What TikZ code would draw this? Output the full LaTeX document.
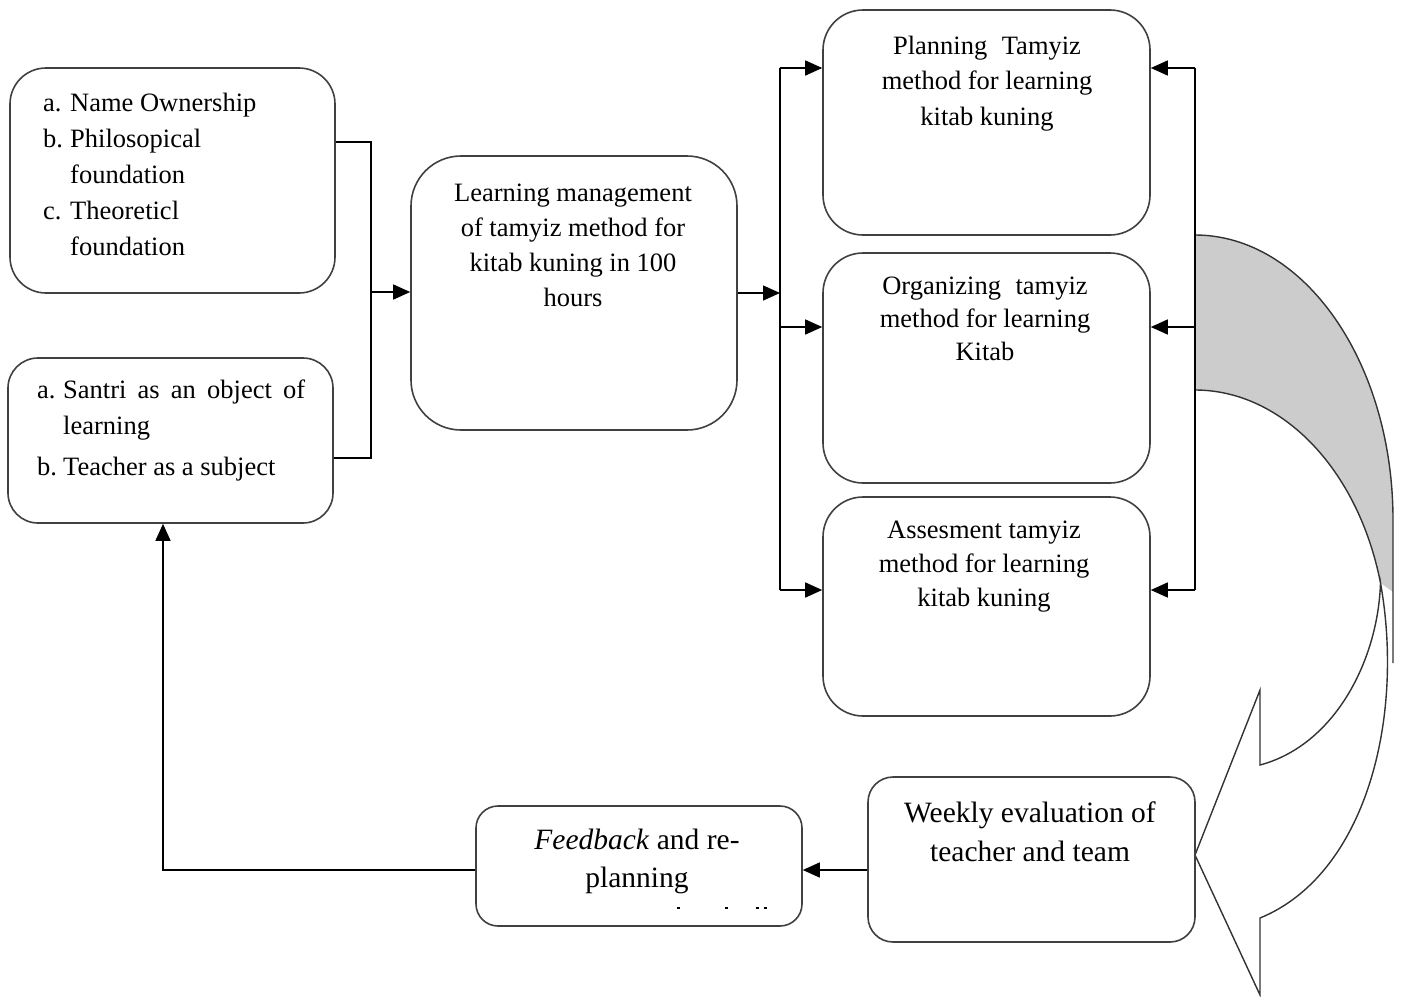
\documentclass[tikz,border=0pt]{standalone}
\usepackage{fontspec}
\setmainfont{Liberation Serif}
\usetikzlibrary{arrows.meta}
\begin{document}
\begin{tikzpicture}[x=1pt,y=-1pt,
  box/.style={draw=black!75, line width=1.6pt, fill=white, inner sep=0pt},
  conn/.style={line width=1.5pt, black},
  arr/.style={conn, -{Triangle[length=17pt,width=15pt]}},
  txt/.style={inner sep=0pt, align=center, font=\fontsize{26.5}{34}\selectfont},
  txtl/.style={inner sep=0pt, align=left, anchor=north west, font=\fontsize{26.5}{36}\selectfont},
  big/.style={inner sep=0pt, align=center, font=\fontsize{29.5}{39}\selectfont},
  curve/.style={draw=black!80, line width=1.4pt, line join=miter},
]
\useasboundingbox (0,0) rectangle (1402,996);

% curved arrow (back part)
\path[fill=black!20] (1195,235) arc[start angle=-90, end angle=0, x radius=198, y radius=285]
  -- (1393,592) -- (1380.5,583) arc[start angle=-15, end angle=-90, x radius=192, y radius=260] -- cycle;
\draw[curve] (1195,235) arc[start angle=-90, end angle=0, x radius=198, y radius=285] -- (1393,663);
\draw[curve] (1195,390) arc[start angle=-90, end angle=-15, x radius=192, y radius=260];
% curved arrow (front part)
\filldraw[curve, fill=white] (1380.5,583) .. controls (1378,660) and (1335,745) .. (1260,765)
  -- (1260,690) -- (1195,855) -- (1260,995) -- (1260,918)
  .. controls (1365,875) and (1405,720) .. (1380.5,583) -- cycle;

% boxes
\node[box, rounded corners=36pt, minimum width=325pt, minimum height=225pt] (A) at (172.5,180.5) {};
\node[box, rounded corners=30pt, minimum width=325pt, minimum height=165pt] (B) at (170.5,440.5) {};
\node[box, rounded corners=50pt, minimum width=326pt, minimum height=274pt] (C) at (574,293) {};
\node[box, rounded corners=40pt, minimum width=327pt, minimum height=225pt] (D) at (986.5,122.5) {};
\node[box, rounded corners=40pt, minimum width=327pt, minimum height=230pt] (E) at (986.5,368) {};
\node[box, rounded corners=40pt, minimum width=327pt, minimum height=219pt] (F) at (986.5,606.5) {};
\node[box, rounded corners=25pt, minimum width=327pt, minimum height=165pt] (G) at (1031.5,859.5) {};
\node[box, rounded corners=22pt, minimum width=326pt, minimum height=120pt] (H) at (639,866) {};

% texts
\node[txtl] (tA) at (43,86) {\strut\makebox[27pt][l]{a.}Name Ownership\\
  \makebox[27pt][l]{b.}Philosopical\\
  \hspace*{27pt}foundation\\
  \makebox[27pt][l]{c.}Theoreticl\\
  \hspace*{27pt}foundation};
\node[txtl] (tB) at (37,373) {\strut\makebox[26pt][l]{a.}\makebox[242pt][s]{Santri as an object of}\\
  \hspace*{26pt}learning\\[5pt]
  \makebox[26pt][l]{b.}Teacher as a subject};
\node[txt, anchor=north, font=\fontsize{26.5}{35}\selectfont] (tC) at (573,177) {\strut Learning management\\of tamyiz method for\\kitab kuning in 100\\hours};
\node[txt, anchor=north, font=\fontsize{26.5}{35.5}\selectfont] (tD) at (987,29) {\strut Planning\hspace{0.3em} Tamyiz\\method for learning\\kitab kuning};
\node[txt, anchor=north, font=\fontsize{26.5}{33}\selectfont] (tE) at (985,271) {\strut Organizing\hspace{0.3em} tamyiz\\method for learning\\Kitab};
\node[txt, anchor=north] (tF) at (984,514) {\strut Assesment tamyiz\\method for learning\\kitab kuning};
\node[big, anchor=north] (tG) at (1030,795) {\strut Weekly evaluation of\\teacher and team};
\node[big, anchor=north, font=\fontsize{29.5}{38}\selectfont] (tH) at (637,823) {\strut\textit{Feedback} and re-\\planning};
% clipped dots in feedback box
\fill (677,906.5) rectangle (679.5,909);
\fill (725,906.5) rectangle (727.5,909);
\fill (756,906.5) rectangle (758.5,909);
\fill (764,906.5) rectangle (766.5,909);

% connectors
\coordinate (jA) at (371,292);
\draw[conn] ([yshift=38.5pt]A.east) -| (jA) |- ([yshift=-17.5pt]B.east);
\draw[arr] (jA) -- (jA -| C.west);
\coordinate (jC) at (780,293);
\draw[arr] (C.east) -- (jC);
\coordinate (vt) at (780,68);
\coordinate (ve) at (780,327);
\coordinate (vb) at (780,590);
\draw[conn] (vt) -- (vb);
\draw[arr] (vt) -- (vt -| D.west);
\draw[arr] (ve) -- (ve -| E.west);
\draw[arr] (vb) -- (vb -| F.west);
\coordinate (rt) at (1195,68);
\coordinate (re) at (1195,327);
\coordinate (rb) at (1195,590);
\draw[conn] (rt) -- (rb);
\draw[arr] (rt) -- (rt -| D.east);
\draw[arr] (re) -- (re -| E.east);
\draw[arr] (rb) -- (rb -| F.east);
\coordinate (g1) at ([yshift=-10.5pt]G.west);
\draw[arr] (g1) -- (g1 -| H.east);
\draw[arr] ([yshift=-4pt]H.west) -| ([xshift=-7.5pt]B.south);
\end{tikzpicture}
\end{document}
